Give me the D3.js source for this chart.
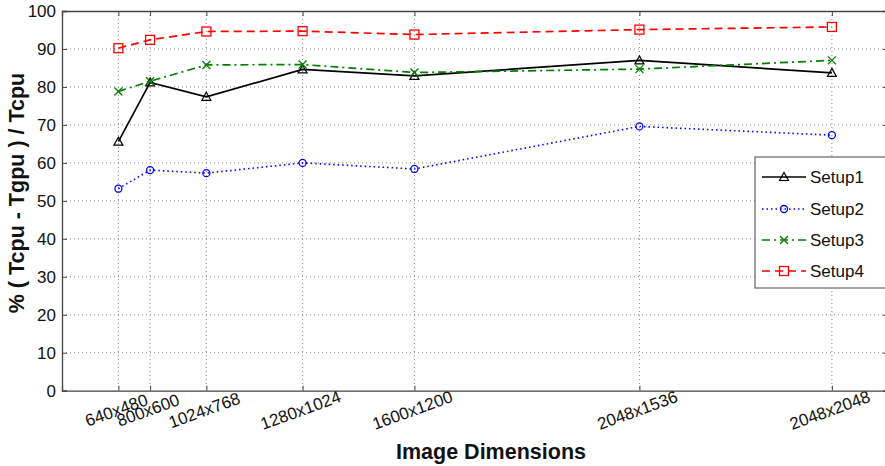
<!DOCTYPE html>
<html><head><meta charset="utf-8">
<script src="https://cdn.jsdelivr.net/npm/d3@7"></script>
<style>body{margin:0;background:#fff}svg{display:block;font-family:"Liberation Sans",Arial,sans-serif}</style>
</head><body><svg id="c" width="885" height="466"></svg>
<script>
const categories = ["640x480","800x600","1024x768","1280x1024","1600x1200","2048x1536","2048x2048"];
const pixelCounts = [307200,480000,786432,1310720,1920000,3145728,4194304];
const setup1 = [65.6,81.2,77.4,84.6,82.9,87.0,83.7];
const setup2 = [53.2,58.1,57.3,60.0,58.4,69.6,67.3];
const setup3 = [78.8,81.5,85.8,85.9,83.8,84.7,87.0];
const setup4 = [90.2,92.4,94.6,94.7,93.8,95.1,95.8];
const seriesNames = ["Setup1","Setup2","Setup3","Setup4"];
const yTicks = [0,10,20,30,40,50,60,70,80,90,100];

const series = [
  {name:seriesNames[0], values:setup1, color:"#000000", dash:null, marker:"tri"},
  {name:seriesNames[1], values:setup2, color:"#0000ff", dash:"1.5,3", marker:"circ"},
  {name:seriesNames[2], values:setup3, color:"#008000", dash:"8,4,2,4", marker:"x"},
  {name:seriesNames[3], values:setup4, color:"#ff0000", dash:"8,5", marker:"sq"}
];

const svg = d3.select("#c");
const L=62, R=888, T=11, B=390.7;
const x = d3.scaleLinear().domain([0,4.5e6]).range([L,R]);
const y = d3.scaleLinear().domain([0,100]).range([B,T]);

// grid
const g = svg.append("g");
g.selectAll("line.gy").data(yTicks.filter(d=>d>0&&d<100)).join("line")
  .attr("x1",L).attr("x2",R).attr("y1",d=>y(d)).attr("y2",d=>y(d))
  .attr("stroke","#888").attr("stroke-width",1).attr("stroke-dasharray","1,3");
g.selectAll("line.gx").data(pixelCounts).join("line")
  .attr("x1",d=>x(d)).attr("x2",d=>x(d)).attr("y1",T).attr("y2",B)
  .attr("stroke","#888").attr("stroke-width",1).attr("stroke-dasharray","1,3");

// axes
const ax = svg.append("g").attr("transform",`translate(0,${B})`)
  .call(d3.axisBottom(x).tickValues(pixelCounts).tickSize(-5).tickFormat(""));
const ay = svg.append("g").attr("transform",`translate(${L},0)`)
  .call(d3.axisLeft(y).tickValues(yTicks).tickSize(-5).tickPadding(6));
const axT = svg.append("g").attr("transform",`translate(0,${T})`)
  .call(d3.axisTop(x).tickValues(pixelCounts).tickSize(-5).tickFormat(""));
const ayR = svg.append("g").attr("transform",`translate(${R},0)`)
  .call(d3.axisRight(y).tickValues(yTicks).tickSize(-5).tickFormat(""));
[ax,ay,axT,ayR].forEach(a=>{
  a.select(".domain").attr("stroke","#444").attr("stroke-width",1.3);
  a.selectAll(".tick line").attr("stroke","#444");
});
ay.selectAll(".tick text").attr("font-size",17).attr("fill","#111").attr("font-family","Liberation Sans, Arial, sans-serif");

// rotated x tick labels
svg.append("g").selectAll("text").data(categories).join("text")
  .attr("transform",(d,i)=>`translate(${x(pixelCounts[i])},${B+25}) rotate(-20)`)
  .attr("text-anchor","middle").attr("font-size",17).attr("fill","#111").text(d=>d);

// axis titles
svg.append("text").attr("x",491).attr("y",459).attr("text-anchor","middle")
  .attr("font-weight","bold").attr("font-size",21.5).attr("fill","#111").text("Image Dimensions");
svg.append("text").attr("transform","translate(24,193) rotate(-90)").attr("text-anchor","middle")
  .attr("font-weight","bold").attr("font-size",21.5).attr("fill","#111").text("% ( Tcpu - Tgpu ) / Tcpu");

function drawMarker(sel, type, color){
  if(type==="tri") sel.append("path").attr("d","M0,-4.5L4.5,3.5L-4.5,3.5Z").attr("fill","none").attr("stroke",color).attr("stroke-width",1.2);
  else if(type==="circ") sel.append("circle").attr("r",3.5).attr("fill","none").attr("stroke",color).attr("stroke-width",1.3);
  else if(type==="x") sel.append("path").attr("d","M-4,-4L4,4M-4,4L4,-4").attr("stroke",color).attr("stroke-width",1.3);
  else if(type==="sq") sel.append("rect").attr("x",-4.5).attr("y",-4.5).attr("width",9).attr("height",9).attr("fill","none").attr("stroke",color).attr("stroke-width",1.3);
}

const line = d3.line().x((d,i)=>x(pixelCounts[i])).y(d=>y(d));
series.forEach(s=>{
  svg.append("path").datum(s.values).attr("d",line).attr("fill","none")
    .attr("stroke",s.color).attr("stroke-width",s.marker==="circ"?1.6:1.7)
    .attr("stroke-dasharray",s.dash);
  s.values.forEach((v,i)=>{
    const m = svg.append("g").attr("transform",`translate(${x(pixelCounts[i])},${y(v)})`);
    drawMarker(m,s.marker,s.color);
  });
});

// legend
const lg = svg.append("g");
lg.append("rect").attr("x",755).attr("y",157).attr("width",140).attr("height",131)
  .attr("fill","#fff").attr("stroke","#444").attr("stroke-width",1);
const ly = [177,209,240,271];
series.forEach((s,i)=>{
  lg.append("line").attr("x1",762).attr("x2",806).attr("y1",ly[i]).attr("y2",ly[i])
    .attr("stroke",s.color).attr("stroke-width",1.5).attr("stroke-dasharray",s.dash);
  const m = lg.append("g").attr("transform",`translate(784,${ly[i]})`);
  drawMarker(m,s.marker,s.color);
  lg.append("text").attr("x",810).attr("y",ly[i]+6).attr("font-size",17).attr("fill","#111").text(s.name);
});
</script></body></html>
